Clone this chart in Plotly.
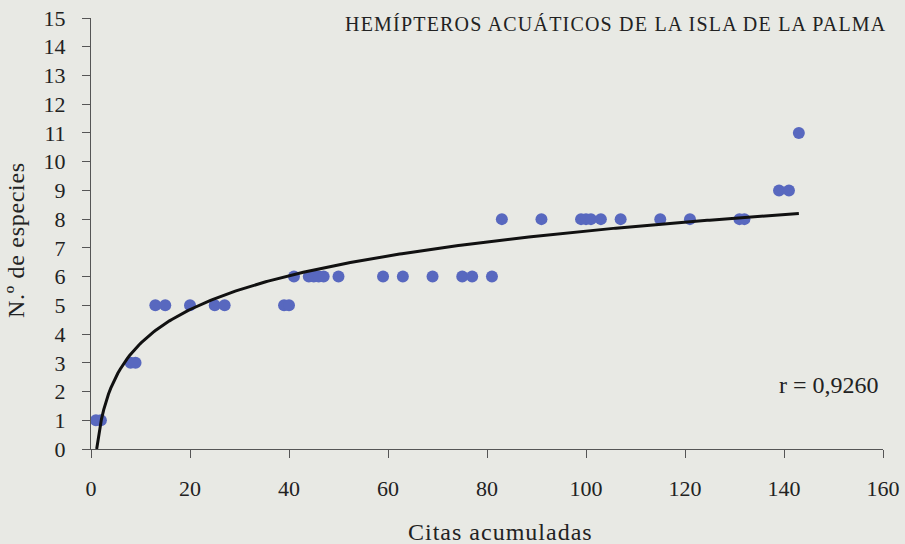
import numpy as np
import plotly.graph_objects as go

citas = [1, 2, 8, 9, 13, 15, 20, 25, 27, 39, 40,
         41, 44, 45, 46, 47, 50, 59, 63, 69, 75, 77, 81,
         83, 91, 99, 100, 101, 103, 107, 115, 121, 131, 132,
         139, 141, 143]
especies = [1, 1, 3, 3, 5, 5, 5, 5, 5, 5, 5,
            6, 6, 6, 6, 6, 6, 6, 6, 6, 6, 6, 6,
            8, 8, 8, 8, 8, 8, 8, 8, 8, 8, 8,
            9, 9, 11]

x_ticks = [0, 20, 40, 60, 80, 100, 120, 140, 160]
y_ticks = list(range(0, 16))

# logarithmic trend fitted to the data
cx = np.array(citas, dtype=float)
cy = np.array(especies, dtype=float)
a, b = np.polyfit(np.log(cx), cy, 1)
x0 = np.exp(-b / a)
xs = np.linspace(max(x0, 0.5), cx.max(), 300)
ys = a * np.log(xs) + b

bg = "#e8e9e4"
serif = "Liberation Serif"
ink = "#222222"

fig = go.Figure()
fig.add_trace(go.Scatter(x=citas, y=especies, mode="markers",
                         marker=dict(size=12, color="#5868bf"),
                         showlegend=False, cliponaxis=False))
fig.add_trace(go.Scatter(x=xs, y=ys, mode="lines",
                         line=dict(color="#111111", width=3),
                         showlegend=False))

axis_common = dict(showgrid=False, zeroline=False, showline=True,
                   linecolor="#555555", linewidth=1, ticks="outside",
                   ticklen=8, tickcolor="#555555", automargin=False,
                   tickfont=dict(family=serif, size=22, color=ink))

fig.update_layout(
    width=905, height=544,
    paper_bgcolor=bg, plot_bgcolor=bg,
    margin=dict(l=91, r=22, t=18, b=95),
    font=dict(family=serif, size=22, color=ink),
    xaxis=dict(range=[0, 160], tickvals=x_ticks, ticklabelstandoff=12, **axis_common),
    yaxis=dict(range=[0, 15], tickvals=y_ticks, ticklabelstandoff=12, **axis_common),
    annotations=[
        dict(text='<span style="letter-spacing:1.2px">HEMÍPTEROS ACUÁTICOS DE LA ISLA DE LA PALMA</span>',
             x=1.0, y=1.0, xref="paper", yref="paper", xanchor="right", yanchor="middle",
             showarrow=False, font=dict(family=serif, size=20, color=ink),
             xshift=5, yshift=-6),
        dict(text="r = 0,9260", x=149, y=2.23, xref="x", yref="y",
             xanchor="center", yanchor="middle", showarrow=False,
             font=dict(family=serif, size=24, color=ink)),
        dict(text='<span style="letter-spacing:1px">Citas acumuladas</span>',
             x=500, y=12, xref="paper", yref="paper",
             xanchor="center", yanchor="middle", showarrow=False,
             font=dict(family=serif, size=24, color=ink)),
        dict(text='<span style="letter-spacing:0.7px">N.º de especies</span>',
             x=16, y=304, xref="paper", yref="paper",
             xanchor="center", yanchor="middle", showarrow=False, textangle=-90,
             font=dict(family=serif, size=24, color=ink)),
    ],
)

# place axis titles in pixel coordinates of the page
for ann in fig.layout.annotations[2:]:
    ann.x = (ann.x - 91) / (905 - 91 - 22)
    ann.y = (ann.y - 95) / (544 - 18 - 95)

fig.write_html("out.html", config={"displayModeBar": False},
               post_script="document.body.style.margin='0';document.body.style.overflow='hidden';")
